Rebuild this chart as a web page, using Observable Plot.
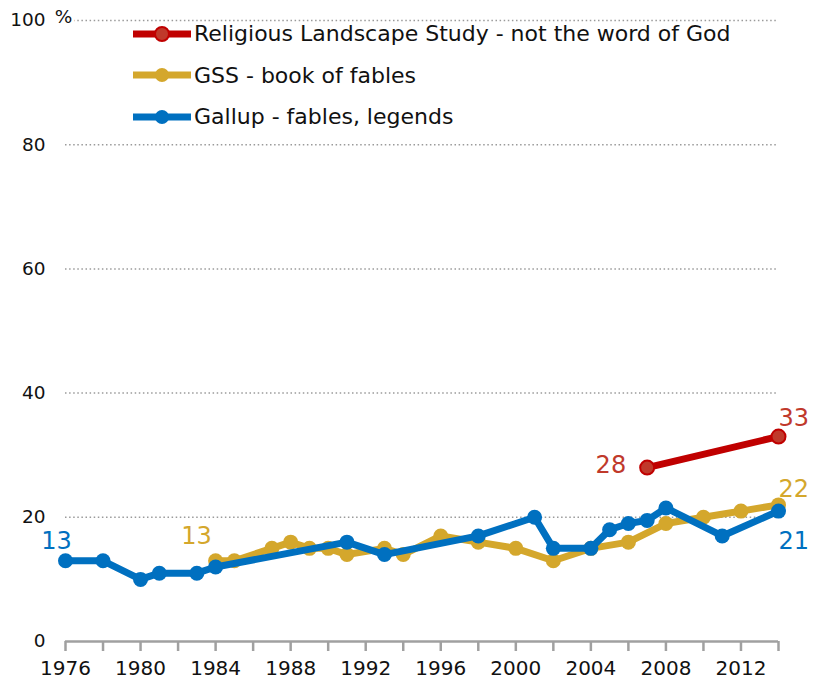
<!DOCTYPE html>
<html>
<head>
<meta charset="utf-8">
<script src="https://cdn.jsdelivr.net/npm/d3@7"></script>
<script src="https://cdn.jsdelivr.net/npm/@observablehq/plot@0.6"></script>
<style>
  body { margin: 0; background: #fff; font-family: "DejaVu Sans", sans-serif; }
  #wrap { position: relative; width: 817px; height: 681px; }
  #legend { position: absolute; left: 133px; top: 13px; }
  .row { display: flex; align-items: center; height: 41.5px; font-size: 22px; color: #111; white-space: nowrap; }
  .row svg { margin-right: 3px; }
</style>
</head>
<body>
<div id="wrap"><div id="legend"></div></div>
<script>
const rlsYears = [2007, 2014];
const rlsValues = [28, 33];
const gssYears = [1984,1985,1987,1988,1989,1990,1991,1993,1994,1996,1998,2000,2002,2004,2006,2008,2010,2012,2014];
const gssValues = [13,13,15,16,15,15,14,15,14,17,16,15,13,15,16,19,20,21,22];
const gallupYears = [1976,1978,1980,1981,1983,1984,1991,1993,1998,2001,2002,2004,2005,2006,2007,2008,2011,2014];
const gallupValues = [13,13,10,11,11,12,16,14,17,20,15,15,18,19,19.5,21.5,17,21];
const yTicks = [0, 20, 40, 60, 80, 100];
const xTicks = d3.range(1976, 2015, 2);
const xLabels = d3.range(1976, 2015, 4);
const seriesNames = ["Religious Landscape Study - not the word of God", "GSS - book of fables", "Gallup - fables, legends"];

const RED = "#c00000", RED_FILL = "#c0392b", RED_TEXT = "#c0392b";
const GOLD = "#d4a72c";
const BLUE = "#0070c0";

const toRows = (ys, vs) => ys.map((y, i) => ({year: y, value: vs[i]}));
const rls = toRows(rlsYears, rlsValues);
const gss = toRows(gssYears, gssValues);
const gallup = toRows(gallupYears, gallupValues);

const font = "DejaVu Sans, sans-serif";

const chart = Plot.plot({
  width: 817,
  height: 681,
  marginTop: 20,
  marginRight: 39,
  marginBottom: 40,
  marginLeft: 65,
  style: {fontFamily: font, background: "transparent", overflow: "visible"},
  x: {domain: [1976, 2014]},
  y: {domain: [0, 100]},
  marks: [
    Plot.ruleY(yTicks.filter(d => d > 0), {stroke: "#9a9a9a", strokeWidth: 1.5, strokeDasharray: "1.5,2.6"}),
    Plot.ruleY([0], {stroke: "#a0a0a0", strokeWidth: 2.5}),
    Plot.axisX({ticks: xTicks, tickSize: 10, stroke: "#a0a0a0", strokeWidth: 2.5, tickFormat: () => "", label: null}),
    Plot.text(xLabels, {x: d => d, y: () => 0, text: d => String(d), dy: 27, fontSize: 20, fill: "#111"}),
    Plot.axisY({ticks: yTicks, tickSize: 0, tickPadding: 20, fontSize: 18.5, fill: "#111", tickFormat: d => String(d), label: null}),
    Plot.text([100], {x: () => 1976, y: d => d, text: () => "%", fontSize: 18.5, fill: "#111", textAnchor: "middle", dx: -2, dy: -3, stroke: "white", strokeWidth: 6, paintOrder: "stroke"}),
    Plot.line(gss, {x: "year", y: "value", stroke: GOLD, strokeWidth: 7}),
    Plot.dot(gss, {x: "year", y: "value", r: 7.5, fill: GOLD}),
    Plot.line(gallup, {x: "year", y: "value", stroke: BLUE, strokeWidth: 7}),
    Plot.dot(gallup, {x: "year", y: "value", r: 7.5, fill: BLUE}),
    Plot.line(rls, {x: "year", y: "value", stroke: RED, strokeWidth: 7}),
    Plot.dot(rls, {x: "year", y: "value", r: 7, fill: RED_FILL, stroke: RED, strokeWidth: 2}),
    // value labels
    Plot.text([gallup[0]], {x: "year", y: "value", text: d => String(d.value), fill: BLUE, fontSize: 24, dx: -9, dy: -19}),
    Plot.text([gss[0]], {x: "year", y: "value", text: d => String(d.value), fill: GOLD, fontSize: 24, dx: -19, dy: -24}),
    Plot.text([rls[0]], {x: "year", y: "value", text: d => String(d.value), fill: RED_TEXT, fontSize: 24, textAnchor: "end", dx: -21, dy: -2}),
    Plot.text([rls[rls.length - 1]], {x: "year", y: "value", text: d => String(d.value), fill: RED_TEXT, fontSize: 24, textAnchor: "start", dx: 0, dy: -18}),
    Plot.text([gss[gss.length - 1]], {x: "year", y: "value", text: d => String(d.value), fill: GOLD, fontSize: 24, textAnchor: "start", dx: 0, dy: -16}),
    Plot.text([gallup[gallup.length - 1]], {x: "year", y: "value", text: d => String(d.value), fill: BLUE, fontSize: 24, textAnchor: "start", dx: 0, dy: 30})
  ]
});
document.getElementById("wrap").prepend(chart);

const legend = document.getElementById("legend");
const legendColors = [[RED, RED_FILL], [GOLD, GOLD], [BLUE, BLUE]];
seriesNames.forEach((name, i) => {
  const row = document.createElement("div");
  row.className = "row";
  const [c, f] = legendColors[i];
  row.innerHTML = `<svg width="58" height="18"><line x1="1" x2="57" y1="9" y2="9" stroke="${c}" stroke-width="7" stroke-linecap="round"/><circle cx="29" cy="9" r="7" fill="${f}" ${i === 0 ? `stroke="${c}" stroke-width="2"` : ""}/></svg><span>${name}</span>`;
  legend.appendChild(row);
});
</script>
</body>
</html>
